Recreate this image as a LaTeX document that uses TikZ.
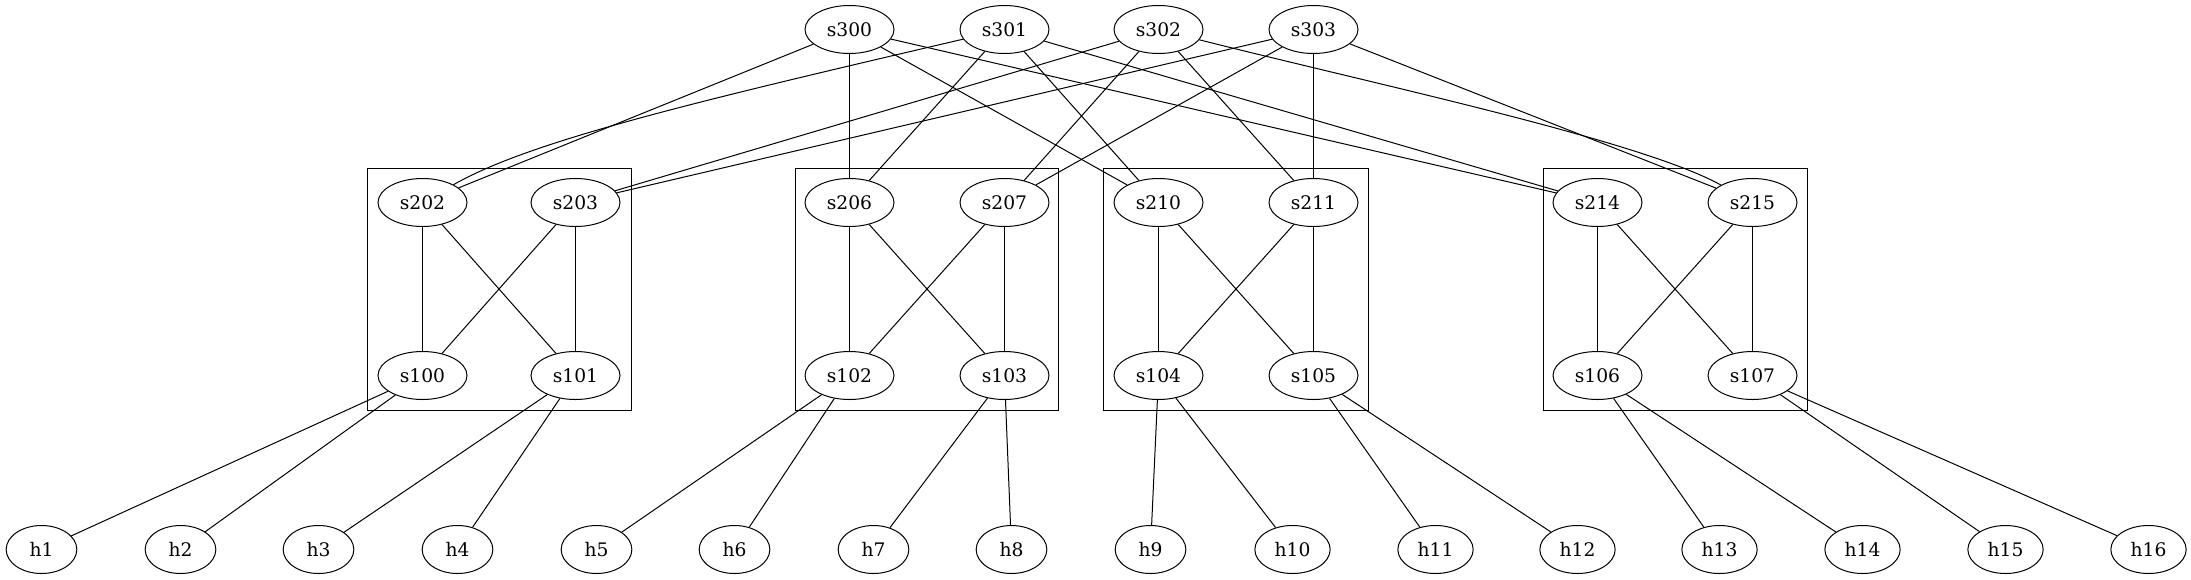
\documentclass[tikz,border=0pt]{standalone}
\usepackage{fontspec}
\setmainfont{DejaVu Serif}
\usetikzlibrary{shapes.geometric}
\begin{document}
\begin{tikzpicture}[x=0.75pt,y=-0.75pt,
  sw/.style={ellipse,draw,line width=0.75pt,inner sep=0pt,minimum width=66.75pt,minimum height=36pt,font=\fontsize{14}{16}\selectfont},
  hs/.style={sw,minimum width=53pt},
  hw/.style={sw,minimum width=56.5pt},
  link/.style={line width=0.75pt},
  pod/.style={draw,line width=0.75pt}]
\useasboundingbox (0,0) rectangle (2191,579);
\begin{scope}[xshift=0.375pt,yshift=-0.375pt]
% clusters
\draw[pod] (367,168) rectangle (631,410);
\draw[pod] (795,168) rectangle (1058,410);
\draw[pod] (1103,168) rectangle (1368,410);
\draw[pod] (1543,168) rectangle (1807,410);
% core
\node[sw] (s300) at (849,29) {s300};
\node[sw] (s301) at (1004,29) {s301};
\node[sw] (s302) at (1158,29) {s302};
\node[sw] (s303) at (1313,29) {s303};
% aggregation
\node[sw] (s202) at (422,202) {s202};
\node[sw] (s203) at (575,202) {s203};
\node[sw] (s206) at (849,202) {s206};
\node[sw] (s207) at (1004,202) {s207};
\node[sw] (s210) at (1158,202) {s210};
\node[sw] (s211) at (1313,202) {s211};
\node[sw] (s214) at (1597,202) {s214};
\node[sw] (s215) at (1752,202) {s215};
% edge
\node[sw] (s100) at (422,375) {s100};
\node[sw] (s101) at (575,375) {s101};
\node[sw] (s102) at (849,375) {s102};
\node[sw] (s103) at (1004,375) {s103};
\node[sw] (s104) at (1158,375) {s104};
\node[sw] (s105) at (1313,375) {s105};
\node[sw] (s106) at (1597,375) {s106};
\node[sw] (s107) at (1752,375) {s107};
% hosts
\node[hs] (h1) at (41,549) {h1};
\node[hs] (h2) at (180,549) {h2};
\node[hs] (h3) at (318,549) {h3};
\node[hs] (h4) at (457,549) {h4};
\node[hs] (h5) at (596,549) {h5};
\node[hs] (h6) at (734,549) {h6};
\node[hs] (h7) at (873,549) {h7};
\node[hs] (h8) at (1011,549) {h8};
\node[hs] (h9) at (1150,549) {h9};
\node[hw] (h10) at (1292,549) {h10};
\node[hw] (h11) at (1435,549) {h11};
\node[hw] (h12) at (1577,549) {h12};
\node[hw] (h13) at (1719,549) {h13};
\node[hw] (h14) at (1862,549) {h14};
\node[hw] (h15) at (2005,549) {h15};
\node[hw] (h16) at (2148,549) {h16};
% core -> aggregation
\draw[link] (s300) -- (s202);
\draw[link] (s300) -- (s206);
\draw[link] (s300) -- (s210);
\draw[link] (s300) -- (s214);
\draw[link] (s301) .. controls (700,100) and (530,140) .. (s202);
\draw[link] (s301) -- (s206);
\draw[link] (s301) -- (s210);
\draw[link] (s301) -- (s214);
\draw[link] (s302) -- (s203);
\draw[link] (s302) -- (s207);
\draw[link] (s302) -- (s211);
\draw[link] (s302) .. controls (1380,85) and (1640,140) .. (s215);
\draw[link] (s303) -- (s203);
\draw[link] (s303) -- (s207);
\draw[link] (s303) -- (s211);
\draw[link] (s303) -- (s215);
% aggregation -> edge
\foreach \a/\b/\c/\d in {s202/s203/s100/s101, s206/s207/s102/s103, s210/s211/s104/s105, s214/s215/s106/s107}{
  \draw[link] (\a) -- (\c);
  \draw[link] (\a) -- (\d);
  \draw[link] (\b) -- (\c);
  \draw[link] (\b) -- (\d);
}
% edge -> hosts
\foreach \s/\x/\y in {s100/h1/h2, s101/h3/h4, s102/h5/h6, s103/h7/h8, s104/h9/h10, s105/h11/h12, s106/h13/h14, s107/h15/h16}{
  \draw[link] (\s) -- (\x);
  \draw[link] (\s) -- (\y);
}
\end{scope}
\end{tikzpicture}
\end{document}
